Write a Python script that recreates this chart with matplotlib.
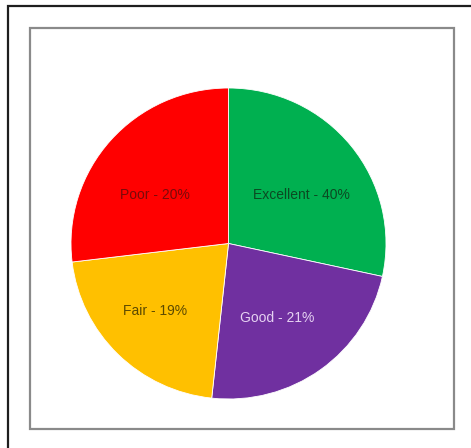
import matplotlib
matplotlib.use("Agg")
import matplotlib.pyplot as plt
from matplotlib.patches import Rectangle

# Data
categories = ["Excellent", "Good", "Fair", "Poor"]
label_pcts = [40, 21, 19, 20]            # percentages printed on the slices
slice_sizes = [28.4, 23.3, 21.4, 26.9]   # slice sizes as drawn in the picture
colors = ["#00B050", "#7030A0", "#FFC000", "#FF0000"]
text_colors = ["#0b4a22", "#e6d2f2", "#5c4a00", "#7a0a0a"]

labels = [f"{c} - {p}%" for c, p in zip(categories, label_pcts)]

plt.rcParams["font.family"] = ["Liberation Sans", "DejaVu Sans"]

W, H = 471, 448
fig = plt.figure(figsize=(W / 100, H / 100), dpi=100)
fig.patch.set_facecolor("white")

# outer dark frame (cut off at right and bottom)
fig.patches.append(Rectangle((8 / W, -0.05), 1.2, (H - 6) / H + 0.05, transform=fig.transFigure,
                             fill=False, edgecolor="#1e1e1e", linewidth=1.6, zorder=0))
# inner grey frame
fig.patches.append(Rectangle((30 / W, (H - 429) / H), (454 - 30) / W, (429 - 28) / H,
                             transform=fig.transFigure, fill=False, edgecolor="#8a8a8a",
                             linewidth=1.6, zorder=0))

ax = fig.add_axes([71 / W, (H - 399) / H, 315 / W, 311 / H])
wedges, texts = ax.pie(slice_sizes, labels=labels, colors=colors, startangle=90,
                       counterclock=False, labeldistance=0.58,
                       wedgeprops=dict(edgecolor="white", linewidth=0.6),
                       textprops=dict(fontsize=10))
# label placement inside the slices (axes data units)
label_xy = [(0.460, 0.312), (0.308, -0.479), (-0.467, -0.434), (-0.467, 0.312)]
for t, c, xy in zip(texts, text_colors, label_xy):
    t.set_ha("center")
    t.set_va("center")
    t.set_color(c)
    t.set_position(xy)
ax.set_aspect("auto")
ax.set_xlim(-1, 1)
ax.set_ylim(-1, 1)
ax.axis("off")

fig.savefig("out.png", dpi=100)
